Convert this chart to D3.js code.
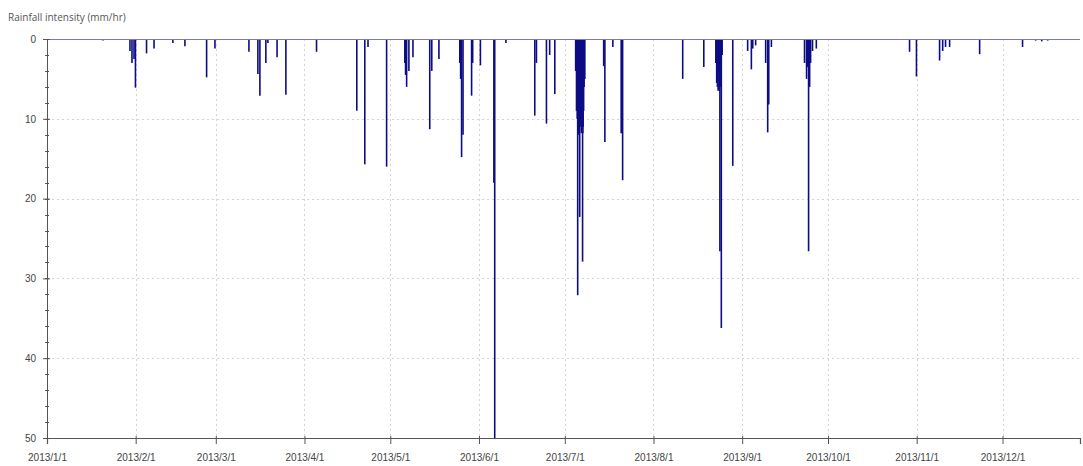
<!DOCTYPE html>
<meta charset="utf-8">
<style>
body { margin: 0; background: #fff; }
svg { font-family: "Open Sans", "DejaVu Sans", sans-serif; }
.grid line { stroke: #d4d4d4; stroke-dasharray: 2,3; }
.tick-label { fill: #444; font-size: 10px; }
</style>
<svg width="1083" height="466"></svg>
<script src="https://d3js.org/d3.v7.min.js"></script>
<script>
// hourly rainfall events: time stamp and intensity (mm/hr)
var times = [
  "01-20 14","01-30 00","01-30 17","01-31 10","01-31 22","02-04 19","02-07 10","02-14 00",
  "02-18 05","02-25 19","02-28 17","03-12 14","03-15 17","03-16 10","03-18 12","03-19 05",
  "03-22 10","03-25 12","04-05 05","04-19 07","04-22 02","04-23 05","04-29 17","05-06 02",
  "05-06 17","05-07 12","05-08 22","05-14 19","05-15 12","05-18 00","05-25 07","05-25 22",
  "05-26 10","05-29 10","05-29 19","06-01 12","06-06 05","06-06 12","06-10 10","06-20 12",
  "06-21 02","06-24 14","06-25 17","06-27 12","07-04 19","07-05 05","07-05 12","07-05 22",
  "07-06 05","07-06 14","07-07 05","07-07 07","07-07 14","07-08 00","07-14 14","07-15 00",
  "07-17 19","07-20 17","07-21 05","08-11 05","08-18 14","08-22 19","08-23 02","08-23 14",
  "08-23 19","08-24 05","08-24 17","08-25 00","08-28 17","09-02 22","09-04 05","09-04 17",
  "09-05 17","09-09 05","09-09 22","09-10 07","09-11 05","09-22 19","09-23 12","09-23 22",
  "09-24 05","09-24 14","09-24 22","09-25 14","09-26 22","10-29 12","10-31 22","11-09 00",
  "11-10 02","11-11 02","11-12 12","11-23 00","12-08 00","12-12 14","12-14 17","12-16 19",
  "07-05 02","07-05 08","07-05 16","07-06 00","07-06 09","07-06 19","07-07 00","07-07 10",
  "07-07 18","08-23 08","08-24 00","08-24 11","09-23 17","09-24 09","05-06 08","05-25 14"
];
var rainfall = [
  0.2,1.5,3.0,2.5,6.1,1.8,1.2,0.5,
  0.9,4.8,1.2,1.6,4.4,7.1,3.0,0.5,
  2.3,7.0,1.6,9.0,15.7,1.0,16.0,3.0,
  6.0,4.0,2.3,11.3,4.0,2.5,3.0,14.8,
  12.0,7.1,3.0,3.3,18.0,50,0.5,9.6,
  3.0,10.6,2.0,6.9,4,8,32.1,12,
  22.3,10,27.9,11.8,9,5,3.4,12.9,
  1.0,11.8,17.7,5.0,3.5,3.0,5.5,6.5,
  4,26.6,36.2,2,15.9,1.5,3.8,1.2,
  0.8,3,11.7,8.2,1.0,3,5,3.5,
  26.6,6,3,1.5,1.2,1.6,4.7,2.7,
  1.5,1.0,1.0,1.9,1.0,0.2,0.3,0.2,
  9,10,11,11.8,11,11.8,10,11,
  6,6,6.5,6,3.5,3.5,4.5,5
];
var monthTicks = ["2013/1/1","2013/2/1","2013/3/1","2013/4/1","2013/5/1","2013/6/1",
  "2013/7/1","2013/8/1","2013/9/1","2013/10/1","2013/11/1","2013/12/1"];
var yTicks = [0, 10, 20, 30, 40, 50];
var yLabel = "Rainfall intensity (mm/hr)";

var svg = d3.select("svg"),
    mLeft = 47, mRight = 1080, mTop = 39, mBottom = 438;

var parseTime = d3.timeParse("%Y-%m-%d %H"),
    parseTick = d3.timeParse("%Y/%m/%d");

var data = times.map(function(t, i) {
  return { date: parseTime("2013-" + t), value: rainfall[i] };
});
var tickDates = monthTicks.map(parseTick);

var x = d3.scaleTime()
    .domain([parseTick("2013/1/1"), parseTime("2013-12-28 02")])
    .range([mLeft, mRight]);

var y = d3.scaleLinear()
    .domain([0, 50])
    .range([mTop, mBottom]);

// grid
var grid = svg.append("g").attr("class", "grid");
grid.selectAll(".vg").data(tickDates.slice(1)).enter().append("line")
    .attr("x1", function(d) { return Math.round(x(d)) + 0.5; })
    .attr("x2", function(d) { return Math.round(x(d)) + 0.5; })
    .attr("y1", mTop).attr("y2", mBottom);
grid.selectAll(".hg").data(yTicks.slice(1, -1)).enter().append("line")
    .attr("x1", mLeft).attr("x2", mRight)
    .attr("y1", function(d) { return Math.round(y(d)) + 0.5; })
    .attr("y2", function(d) { return Math.round(y(d)) + 0.5; });

// bars
svg.append("g")
  .selectAll("line").data(data).enter().append("line")
    .attr("x1", function(d) { return x(d.date); })
    .attr("x2", function(d) { return x(d.date); })
    .attr("y1", y(0))
    .attr("y2", function(d) { return y(Math.min(d.value, 50)); })
    .attr("stroke", "#0c0c84")
    .attr("stroke-width", 1.6);

// baseline at zero
svg.append("line")
    .attr("x1", mLeft).attr("x2", mRight)
    .attr("y1", y(0) + 0.5).attr("y2", y(0) + 0.5)
    .attr("stroke", "#7a7ab4").attr("stroke-width", 1.2);

// y axis
var yAxis = d3.axisLeft(y).tickValues(yTicks).tickSize(4).tickPadding(7);
var gy = svg.append("g").attr("transform", "translate(" + mLeft + ",0)").call(yAxis);
gy.select(".domain").attr("stroke", "#555");
gy.selectAll(".tick line").attr("stroke", "#555").attr("x2", -4).attr("x1", 3);
gy.selectAll(".tick text").attr("class", "tick-label").attr("font-family", null).attr("font-size", null);
gy.selectAll(".minor").data(d3.range(0, 51, 2)).enter().append("line")
    .attr("class", "minor")
    .attr("x1", -2).attr("x2", 2)
    .attr("y1", function(d) { return Math.round(y(d)) + 0.5; })
    .attr("y2", function(d) { return Math.round(y(d)) + 0.5; })
    .attr("stroke", "#555");

// x axis
var xAxis = d3.axisBottom(x).tickValues(tickDates).tickSize(6).tickPadding(10)
    .tickFormat(function(d, i) { return monthTicks[i]; });
var gx = svg.append("g").attr("transform", "translate(0," + mBottom + ")").call(xAxis);
gx.select(".domain").attr("stroke", "#555").attr("stroke-width", 1.2);
gx.selectAll(".tick line").attr("stroke", "#555").attr("y1", -2);
gx.selectAll(".tick text").attr("class", "tick-label").attr("font-family", null).attr("font-size", null);

svg.append("text")
    .attr("x", 8).attr("y", 21)
    .attr("fill", "#555").attr("font-size", "10px")
    .text(yLabel);
</script>
